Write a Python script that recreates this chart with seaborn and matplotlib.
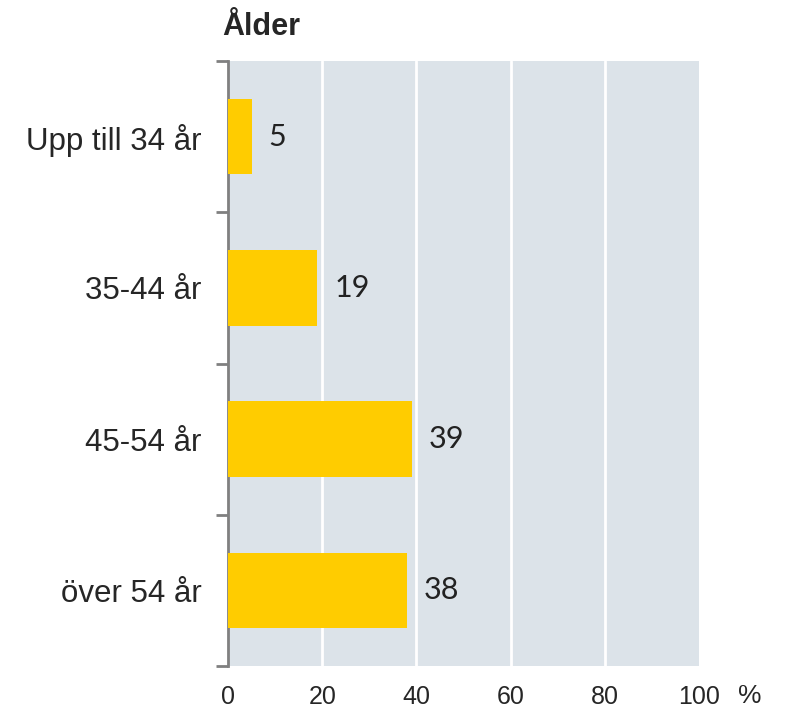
import matplotlib
matplotlib.use("Agg")
import matplotlib.pyplot as plt
import seaborn as sns
import pandas as pd
from matplotlib.ticker import FixedLocator

categories = ["Upp till 34 år", "35-44 år", "45-54 år", "över 54 år"]
values = [5, 19, 39, 38]
xticks = [0, 20, 40, 60, 80, 100]

df = pd.DataFrame({"group": categories, "share": values})

sns.set_style("white")
plt.rcParams["font.family"] = ["Liberation Sans", "DejaVu Sans"]

fig = plt.figure(figsize=(7.85, 7.13), dpi=100)
ax = fig.add_axes([228 / 785, 1 - 666 / 713, 471 / 785, 605 / 713])
ax.set_facecolor("#dce3e9")

sns.barplot(data=df, y="group", x="share", color="#ffcc00", width=0.5,
            saturation=1, linewidth=0, ax=ax, orient="h", zorder=3)

ax.set_xlim(0, 100)
ax.set_ylim(3.5, -0.5)
for x in xticks[1:-1]:
    ax.axvline(x, color="white", lw=2, zorder=1)

# value labels
for i, v in enumerate(values):
    ax.annotate(str(v), xy=(v, i), xytext=(12, 0), textcoords="offset points",
                va="center", ha="left", fontsize=22, color="#222222",
                family=["Lato", "DejaVu Sans"])

ax.set_xticks(xticks)
ax.set_xticklabels([str(t) for t in xticks], fontsize=18)
ax.tick_params(axis="x", length=0, pad=14)

# y ticks at boundaries, labels at centers
ax.yaxis.set_major_locator(FixedLocator([-0.5, 0.5, 1.5, 2.5, 3.5]))
ax.set_yticklabels([])
ax.yaxis.set_minor_locator(FixedLocator(range(len(categories))))
ax.set_yticks(range(len(categories)), categories, minor=True, fontsize=22.5)
ax.tick_params(axis="y", which="major", length=9, width=2, color="#808080", left=True)
ax.tick_params(axis="y", which="minor", length=0, pad=19)

ax.set_xlabel("")
ax.set_ylabel("")
for s in ["top", "right", "bottom"]:
    ax.spines[s].set_visible(False)
ax.spines["left"].set_color("#808080")
ax.spines["left"].set_linewidth(2)

fig.text(222 / 785, 1 - 27 / 713, "Ålder", fontsize=22, fontweight="bold",
         va="center", ha="left")
fig.text(750 / 785, 1 - 696 / 713, "%", fontsize=19, va="center", ha="center")

fig.savefig("out.png", dpi=100)
